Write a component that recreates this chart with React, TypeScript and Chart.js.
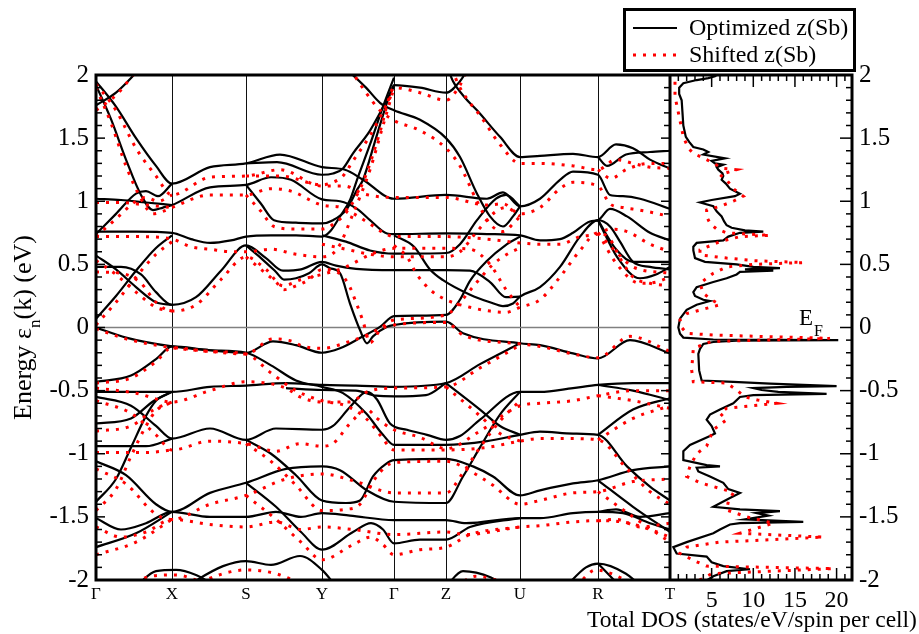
import React, { useEffect, useRef } from "react";
import { Chart, registerables } from "chart.js";
Chart.register(...registerables);

const SERIF = "'Liberation Serif', 'Times New Roman', Times, serif";

// high-symmetry points (path length units) and labels
const kPositions = [0, 76, 150, 226, 298, 350, 424, 502, 574];
const kLabels = ["Γ", "X", "S", "Y", "Γ", "Z", "U", "R", "T"];
const energyTicks = [-2, -1.5, -1, -0.5, 0, 0.5, 1, 1.5, 2];
const dosTicks = [5, 10, 15, 20];
const energyRange = [-2, 2];
const dosRange = [0, 21.85];
const legendLabels = ["Optimized z(Sb)", "Shifted z(Sb)"];

// optimized z(Sb) bands: [k, E]
const optimizedBands: number[][][] = [
  [[0,1.95],[20,1.75],[40,1.50],[60,1.28],[76,1.14],[114,1.27],[150,1.30],[184,1.37],[226,1.27],[249,1.25],[267,1.17],[298,1.02],[350,1.05],[391,1.02],[407,1.07],[424,0.96],[444,1.02],[464,1.17],[477,1.235],[502,1.21],[514,1.05],[527,1.04],[544,1.02],[574,0.94]],
  [[0,1.92],[15,1.65],[30,1.33],[45,1.05],[57,0.93],[67,0.95],[76,0.97],[114,1.11],[150,1.13],[175,1.19],[195,1.17],[226,1.015],[244,1.0],[261,0.94],[274,0.85],[291,0.745],[298,0.74],[350,0.745],[391,0.74],[424,0.73],[444,0.69],[464,0.70],[477,0.75],[494,0.84],[502,0.85],[514,0.94],[531,0.88],[554,0.75],[574,0.69]],
  [[0,1.76],[20,1.86],[44,2.05]],
  [[0,1.02],[25,1.01],[50,0.99],[76,0.97]],
  [[150,1.13],[165,0.98],[178,0.85],[200,0.83],[226,0.825],[237,0.85],[251,0.94],[261,1.09],[267,1.17],[280,1.50],[294,1.85],[298,1.92],[324,1.90],[350,1.86],[364,1.95],[372,2.05]],
  [[0,0.74],[20,0.90],[40,1.06],[50,1.08],[62,1.04],[76,1.14]],
  [[150,1.30],[181,1.31],[226,1.21],[237,1.22],[247,1.26],[257,1.38],[274,1.56],[298,1.91]],
  [[250,2.05],[270,1.90],[284,1.78],[298,1.72],[324,1.645],[350,1.50],[364,1.35],[381,1.06],[394,0.88],[407,0.80],[417,0.88],[424,0.96]],
  [[352,2.05],[357,1.95],[369,1.82],[381,1.72],[404,1.51],[424,1.35],[444,1.36],[477,1.375],[502,1.35],[520,1.45],[537,1.42],[554,1.33],[574,1.26]],
  [[502,1.35],[511,1.28],[530,1.37],[554,1.39],[574,1.40]],
  [[0,0.76],[40,0.76],[76,0.75],[95,0.70],[114,0.67],[135,0.69],[150,0.72],[175,0.73],[200,0.73],[226,0.72],[234,0.76],[244,0.88],[254,1.01],[261,1.17],[274,1.45],[287,1.75],[298,1.98]],
  [[0,0.48],[25,0.48],[45,0.42],[60,0.28],[76,0.18],[100,0.24],[125,0.45],[150,0.65],[170,0.55],[187,0.45],[205,0.46],[226,0.52],[240,0.49],[260,0.465],[298,0.455],[350,0.455],[374,0.45],[394,0.36],[410,0.24],[424,0.245]],
  [[0,0.57],[20,0.46],[40,0.32],[60,0.20],[76,0.18]],
  [[150,0.65],[165,0.55],[180,0.44],[188,0.38],[200,0.39],[213,0.43],[226,0.50],[234,0.47],[244,0.43],[254,0.19],[264,-0.02],[271,-0.125],[277,-0.07],[291,0.006],[298,0.02],[350,0.046],[367,-0.046],[424,-0.125],[444,-0.14],[477,-0.205],[502,-0.245],[534,-0.10],[574,-0.205]],
  [[0,0.07],[20,0.25],[40,0.45],[60,0.63],[76,0.73]],
  [[298,0.73],[318,0.64],[334,0.46],[347,0.375],[374,0.26],[394,0.20],[407,0.17],[417,0.19],[424,0.245],[444,0.32],[464,0.48],[484,0.72],[502,0.85],[514,0.80],[524,0.68],[537,0.52],[554,0.48],[574,0.46]],
  [[226,0.73],[250,0.68],[274,0.61],[298,0.585],[350,0.59],[364,0.66],[381,0.85],[400,1.02],[410,1.05],[424,0.96]],
  [[502,0.85],[520,0.62],[537,0.52],[574,0.52]],
  [[502,0.85],[521,0.56],[544,0.39],[560,0.42],[574,0.48]],
  [[0,0.0],[30,-0.08],[76,-0.15],[114,-0.18],[150,-0.20],[177,-0.11],[200,-0.14],[226,-0.20],[244,-0.165],[267,-0.07],[284,0.005],[298,0.09],[350,0.10],[364,0.22],[374,0.37],[390,0.52],[411,0.66],[424,0.72]],
  [[0,-0.43],[35,-0.38],[60,-0.25],[76,-0.15],[114,-0.18],[150,-0.20],[175,-0.30],[200,-0.42],[226,-0.47],[247,-0.52],[270,-0.68],[287,-0.85],[298,-0.93],[350,-0.93],[391,-0.90],[424,-0.85],[444,-0.825],[477,-0.84],[502,-0.85],[531,-1.1],[554,-1.26],[574,-1.37]],
  [[0,-0.51],[40,-0.51],[76,-0.51],[114,-0.47],[150,-0.46],[190,-0.44],[226,-0.455],[260,-0.46],[298,-0.47],[350,-0.44],[384,-0.29],[424,-0.125]],
  [[190,-0.48],[226,-0.495],[260,-0.50],[280,-0.54],[298,-0.545],[330,-0.535],[350,-0.44]],
  [[350,-0.44],[384,-0.65],[404,-0.78],[424,-0.85]],
  [[0,-0.55],[35,-0.62],[60,-0.78],[76,-0.88],[114,-0.80],[150,-0.89],[180,-0.80],[226,-0.81],[237,-0.78],[254,-0.63],[271,-0.51],[281,-0.57],[294,-0.76],[311,-0.81],[331,-0.85],[350,-0.89],[364,-0.86],[384,-0.73],[424,-0.51],[444,-0.51],[477,-0.48],[502,-0.455],[537,-0.44],[574,-0.44]],
  [[150,-0.89],[175,-1.0],[200,-1.17],[226,-1.37],[250,-1.39],[264,-1.37],[277,-1.18],[290,-1.08],[298,-1.05],[350,-1.04],[377,-1.10],[397,-1.18],[424,-1.33],[444,-1.29],[477,-1.235],[502,-1.21],[537,-1.13],[574,-1.10]],
  [[0,-0.76],[35,-0.72],[58,-0.58],[76,-0.51]],
  [[0,-0.94],[50,-0.94],[76,-0.88]],
  [[0,-1.06],[30,-1.17],[60,-1.40],[76,-1.46],[114,-1.31],[150,-1.23],[190,-1.12],[226,-1.10],[244,-1.13],[271,-1.29],[298,-1.38],[350,-1.39],[367,-1.18],[384,-0.95],[404,-0.69],[424,-0.51]],
  [[0,-1.38],[20,-1.20],[35,-0.95],[50,-0.70],[60,-0.58],[76,-0.51]],
  [[0,-1.51],[25,-1.60],[50,-1.55],[76,-1.46],[114,-1.50],[150,-1.50],[180,-1.46],[205,-1.50],[226,-1.47],[254,-1.49],[298,-1.525],[350,-1.525],[370,-1.55],[424,-1.51],[444,-1.51],[477,-1.47],[502,-1.46],[527,-1.47],[554,-1.55],[574,-1.60]],
  [[0,-1.74],[40,-1.63],[76,-1.46]],
  [[150,-1.23],[180,-1.42],[205,-1.62],[226,-1.76],[257,-1.62],[275,-1.55],[287,-1.60],[298,-1.71],[324,-1.68],[350,-1.68],[374,-1.58],[424,-1.51]],
  [[502,-1.21],[537,-1.42],[574,-1.62]],
  [[502,-0.85],[537,-0.65],[574,-0.56]],
  [[502,-0.455],[537,-0.50],[574,-0.575]],
  [[502,-1.46],[520,-1.44],[544,-1.50],[574,-1.47]],
  [[40,-2.05],[60,-1.93],[80,-1.92],[100,-1.96],[120,-2.05]],
  [[90,-2.05],[127,-1.89],[150,-1.85],[175,-1.88],[204,-1.81],[226,-1.92],[240,-2.05]],
  [[350,-2.05],[367,-1.93],[395,-1.98],[410,-2.05]],
  [[470,-2.05],[490,-1.90],[502,-1.87],[530,-1.95],[545,-2.05]],
  [[502,-1.87],[524,-2.05]],
];

// shifted z(Sb) bands: [k, E]
const shiftedBands: number[][][] = [
  [[0,1.93],[20,1.72],[40,1.42],[60,1.20],[76,1.05],[114,1.19],[150,1.20],[184,1.25],[226,1.12],[249,1.12],[267,1.06],[298,1.03],[350,1.03],[391,0.97],[407,0.98],[424,0.90],[444,0.95],[464,1.10],[477,1.15],[502,1.12],[514,0.98],[527,0.95],[544,0.93],[574,0.88]],
  [[0,1.90],[15,1.62],[30,1.28],[45,1.02],[57,0.90],[67,0.92],[76,0.95],[114,1.05],[150,1.05],[175,1.10],[195,1.08],[226,0.97],[246,0.95],[258,0.90],[274,0.82],[290,0.74],[298,0.72],[350,0.72],[391,0.70],[424,0.67],[444,0.66],[464,0.66],[484,0.72],[502,0.74],[514,0.78],[531,0.76],[554,0.66],[574,0.60]],
  [[0,1.72],[20,1.84],[42,2.05]],
  [[0,0.99],[25,0.99],[50,0.97],[76,0.95]],
  [[150,1.05],[165,0.92],[178,0.80],[200,0.78],[226,0.78],[241,0.84],[251,0.92],[267,1.15],[284,1.55],[294,1.84],[298,1.90],[324,1.86],[350,1.80],[364,1.92],[372,2.05]],
  [[0,0.72],[20,0.86],[40,1.00],[50,1.03],[62,1.00],[76,1.05]],
  [[150,1.20],[184,1.20],[226,1.13],[237,1.15],[247,1.20],[257,1.32],[274,1.52],[298,1.88]],
  [[254,2.05],[270,1.86],[284,1.72],[298,1.64],[324,1.56],[350,1.42],[364,1.28],[381,1.00],[394,0.82],[407,0.76],[417,0.82],[424,0.88]],
  [[356,2.05],[362,1.93],[372,1.80],[384,1.68],[404,1.45],[424,1.30],[444,1.30],[477,1.28],[502,1.25],[520,1.33],[537,1.30],[554,1.27],[574,1.26]],
  [[502,1.25],[515,1.18],[530,1.25],[554,1.30],[574,1.30]],
  [[0,0.72],[40,0.72],[76,0.70],[95,0.64],[114,0.62],[135,0.60],[150,0.60],[175,0.62],[200,0.58],[226,0.56],[241,0.62],[257,0.90],[274,1.25],[287,1.60],[298,1.90]],
  [[0,0.44],[25,0.43],[45,0.35],[60,0.20],[76,0.13],[100,0.18],[125,0.38],[150,0.56],[170,0.46],[187,0.33],[205,0.38],[226,0.42],[250,0.48],[275,0.58],[298,0.627],[350,0.627],[374,0.62],[394,0.50],[410,0.30],[424,0.16]],
  [[0,0.53],[20,0.42],[40,0.28],[60,0.16],[76,0.13]],
  [[150,0.56],[165,0.46],[180,0.36],[188,0.30],[200,0.33],[213,0.38],[226,0.46],[241,0.44],[252,0.35],[260,0.20],[267,0.05],[274,-0.12],[284,-0.02],[292,0.04],[298,0.06],[350,0.10],[364,0.20],[381,0.36],[397,0.50],[411,0.58],[424,0.63]],
  [[0,0.02],[20,0.20],[40,0.40],[60,0.58],[76,0.68]],
  [[298,0.65],[311,0.56],[321,0.42],[334,0.30],[350,0.22],[374,0.16],[394,0.13],[410,0.12],[424,0.16],[444,0.22],[464,0.40],[484,0.61],[502,0.75],[514,0.70],[524,0.55],[537,0.40],[554,0.35],[574,0.33]],
  [[226,0.66],[250,0.62],[274,0.58],[298,0.56],[350,0.56],[364,0.60],[381,0.76],[400,0.92],[410,0.95],[424,0.88]],
  [[502,0.75],[520,0.60],[537,0.48],[574,0.43]],
  [[502,0.75],[521,0.50],[544,0.35],[560,0.36],[574,0.40]],
  [[0,-0.01],[30,-0.09],[76,-0.16],[114,-0.19],[150,-0.21],[177,-0.09],[200,-0.12],[204,-0.14],[226,-0.165],[254,-0.11],[271,-0.06],[284,-0.01],[298,0.02],[350,0.04],[367,-0.06],[424,-0.13],[444,-0.15],[477,-0.21],[502,-0.24],[534,-0.07],[574,-0.19]],
  [[0,-0.44],[35,-0.40],[60,-0.27],[76,-0.16],[114,-0.19],[150,-0.21],[175,-0.36],[200,-0.50],[226,-0.58],[250,-0.62],[270,-0.72],[285,-0.86],[298,-0.97],[350,-0.97],[391,-0.95],[424,-0.90],[444,-0.88],[477,-0.88],[502,-0.89],[531,-1.12],[554,-1.30],[574,-1.40]],
  [[0,-0.48],[40,-0.52],[76,-0.59],[114,-0.50],[150,-0.43],[190,-0.48],[204,-0.55],[226,-0.59],[254,-0.59],[271,-0.51],[298,-0.48],[350,-0.47],[384,-0.32],[424,-0.14]],
  [[350,-0.47],[384,-0.70],[404,-0.84],[424,-0.90]],
  [[0,-0.58],[35,-0.68],[60,-0.85],[76,-0.97],[114,-0.90],[150,-0.92],[180,-0.98],[204,-0.92],[226,-0.94],[237,-0.92],[254,-0.76],[271,-0.65],[281,-0.72],[298,-0.81],[324,-0.87],[350,-0.96],[384,-0.82],[424,-0.62],[444,-0.60],[477,-0.58],[502,-0.54],[537,-0.50],[574,-0.50]],
  [[150,-0.92],[175,-1.06],[200,-1.25],[226,-1.45],[250,-1.44],[264,-1.40],[277,-1.22],[290,-1.10],[298,-1.07],[350,-1.06],[377,-1.15],[397,-1.25],[424,-1.40],[444,-1.37],[477,-1.31],[502,-1.30],[537,-1.22],[574,-1.20]],
  [[0,-0.82],[35,-0.78],[58,-0.65],[76,-0.59]],
  [[0,-0.99],[50,-0.99],[76,-0.97]],
  [[0,-1.12],[30,-1.24],[60,-1.48],[76,-1.52],[114,-1.40],[150,-1.33],[190,-1.20],[226,-1.16],[260,-1.22],[298,-1.31],[350,-1.31],[367,-1.15],[384,-0.95],[404,-0.74],[424,-0.58]],
  [[0,-1.45],[20,-1.28],[35,-1.02],[50,-0.78],[60,-0.66],[76,-0.59]],
  [[0,-1.58],[25,-1.66],[50,-1.62],[76,-1.52],[114,-1.56],[150,-1.58],[180,-1.54],[205,-1.60],[226,-1.58],[257,-1.60],[298,-1.64],[350,-1.62],[370,-1.64],[424,-1.58],[444,-1.57],[477,-1.54],[502,-1.53],[527,-1.54],[554,-1.60],[574,-1.66]],
  [[0,-1.80],[40,-1.70],[76,-1.52]],
  [[150,-1.33],[180,-1.52],[205,-1.70],[226,-1.84],[257,-1.72],[275,-1.66],[287,-1.72],[298,-1.80],[324,-1.76],[350,-1.74],[374,-1.64],[424,-1.58]],
  [[502,-1.30],[537,-1.50],[574,-1.70]],
  [[502,-0.89],[537,-0.72],[574,-0.62]],
  [[502,-0.54],[537,-0.58],[574,-0.64]],
  [[502,-1.53],[520,-1.52],[544,-1.58],[574,-1.55]],
  [[30,-2.05],[55,-1.97],[80,-1.96],[100,-2.0],[115,-2.05]],
  [[95,-2.05],[127,-1.95],[150,-1.92],[180,-1.95],[210,-2.05]],
  [[360,-2.05],[380,-1.97],[410,-2.02]],
  [[480,-2.05],[500,-1.92],[530,-2.0],[545,-2.05]],
];

// total DOS: [E, states/eV/spin per cell]
const dosOptimized: number[][] = [
  [2.02,6.0],[1.99,5.4],[1.975,4.6],[1.96,3.2],[1.935,1.6],[1.90,1.1],[1.85,1.1],[1.80,1.4],[1.70,1.5],[1.60,1.6],[1.51,1.9],[1.47,2.3],[1.43,2.8],[1.41,4.0],[1.39,4.6],[1.37,4.0],[1.34,6.6],[1.32,5.0],[1.30,5.4],[1.29,6.4],[1.27,5.6],[1.25,5.8],[1.22,6.3],[1.20,6.4],[1.17,6.2],[1.14,6.7],[1.10,7.2],[1.06,8.4],[1.04,7.8],[1.01,5.0],[0.99,3.6],[0.96,5.2],[0.92,5.6],[0.88,6.2],[0.84,6.5],[0.81,6.8],[0.79,7.4],[0.77,9.0],[0.76,11.2],[0.75,8.4],[0.72,7.0],[0.69,6.4],[0.67,3.2],[0.64,2.8],[0.61,2.8],[0.55,3.0],[0.52,4.2],[0.50,8.0],[0.48,10.0],[0.47,13.2],[0.46,9.0],[0.45,12.4],[0.44,8.4],[0.42,8.0],[0.39,6.8],[0.36,5.2],[0.32,3.2],[0.28,2.8],[0.25,3.0],[0.22,4.0],[0.21,4.8],[0.18,3.2],[0.14,2.0],[0.07,1.2],[0.0,1.0],[-0.05,1.2],[-0.08,1.6],[-0.095,5.2],[-0.10,20.2],[-0.105,8.0],[-0.115,5.2],[-0.13,4.0],[-0.17,3.6],[-0.21,3.4],[-0.34,3.5],[-0.42,3.8],[-0.43,7.6],[-0.445,12.0],[-0.465,20.0],[-0.47,14.0],[-0.48,10.0],[-0.495,11.0],[-0.51,13.0],[-0.525,18.8],[-0.535,10.0],[-0.55,8.4],[-0.60,7.6],[-0.65,6.0],[-0.69,4.8],[-0.73,4.4],[-0.78,5.0],[-0.81,5.2],[-0.84,5.4],[-0.86,4.8],[-0.93,2.4],[-0.98,1.6],[-1.05,1.6],[-1.09,4.4],[-1.10,6.0],[-1.11,3.2],[-1.14,3.4],[-1.18,4.8],[-1.23,6.4],[-1.28,7.0],[-1.31,8.4],[-1.35,7.2],[-1.42,5.2],[-1.44,8.4],[-1.455,13.2],[-1.47,10.4],[-1.49,11.8],[-1.52,9.0],[-1.54,16.0],[-1.55,8.4],[-1.56,7.2],[-1.60,6.0],[-1.63,5.2],[-1.70,2.0],[-1.74,0.4],[-1.79,0.8],[-1.815,4.4],[-1.86,5.0],[-1.89,6.4],[-1.915,9.6],[-1.93,6.8],[-1.97,5.2],[-2.02,4.0],
];
const dosShifted: number[][] = [
  [2.02,1.0],[1.95,0.6],[1.83,0.6],[1.64,1.2],[1.51,1.6],[1.42,2.2],[1.38,2.8],[1.33,4.4],[1.30,5.2],[1.26,6.4],[1.25,8.0],[1.21,6.0],[1.17,6.8],[1.10,7.6],[1.04,8.8],[1.00,7.6],[0.96,6.0],[0.93,4.4],[0.88,4.4],[0.825,4.8],[0.78,5.6],[0.75,6.8],[0.73,12.0],[0.72,8.4],[0.68,6.0],[0.615,3.6],[0.575,3.6],[0.55,6.8],[0.53,10.0],[0.514,16.0],[0.50,10.0],[0.48,6.8],[0.43,5.2],[0.35,3.6],[0.27,4.0],[0.22,5.0],[0.18,6.0],[0.11,2.0],[0.06,1.2],[0.0,1.4],[-0.046,2.0],[-0.06,5.2],[-0.086,19.2],[-0.11,5.0],[-0.165,2.8],[-0.337,2.6],[-0.43,2.8],[-0.44,6.8],[-0.495,8.0],[-0.55,9.0],[-0.574,10.5],[-0.60,12.8],[-0.64,6.8],[-0.68,6.0],[-0.73,6.8],[-0.81,5.2],[-0.94,4.4],[-1.00,3.2],[-1.10,2.4],[-1.18,2.0],[-1.23,3.6],[-1.29,6.8],[-1.31,7.6],[-1.38,7.0],[-1.445,6.8],[-1.50,9.2],[-1.55,12.4],[-1.63,8.4],[-1.66,18.4],[-1.70,6.0],[-1.74,2.0],[-1.79,1.2],[-1.85,3.0],[-1.89,4.4],[-1.91,19.6],[-1.95,5.0],[-2.02,3.0],
];

const RED = "#ff0000";
const DOTS = [3, 7];

const decorPlugin = {
  id: "decor",
  afterDatasetsDraw(chart: any) {
    const ctx = chart.ctx;
    const xs = chart.scales.x, xd = chart.scales.x2, ys = chart.scales.y;
    const top = chart.chartArea.top, bottom = chart.chartArea.bottom;
    const L = xs.left, M = xs.right, R = xd.right;
    const seg = (a: number, b: number, c: number, d: number) => { ctx.beginPath(); ctx.moveTo(a, b); ctx.lineTo(c, d); ctx.stroke(); };
    ctx.save();
    ctx.strokeStyle = "#000";
    ctx.lineWidth = 1.5;
    for (let i = -20; i <= 20; i++) {
      const py = ys.getPixelForValue(i / 10);
      const major = i % 5 === 0;
      seg(L, py, L + (major ? 9 : 6), py);
      seg(M, py, M - (major ? 9 : 6), py);
      seg(R, py, R - (major ? 12 : 6), py);
    }
    for (let d = 1; d <= 21; d++) {
      const px = xd.getPixelForValue(d);
      const major = d % 5 === 0;
      seg(px, bottom, px, bottom - (major ? 12 : 6));
      seg(px, top, px, top + (major ? 12 : 6));
    }
    ctx.lineWidth = 3;
    ctx.strokeRect(L, top, R - L, bottom - top);
    seg(M, top, M, bottom);
    ctx.fillStyle = "#000";
    ctx.textBaseline = "alphabetic";
    ctx.textAlign = "left";
    ctx.font = `23px ${SERIF}`;
    ctx.fillText("E", 799, 325);
    ctx.font = `16px ${SERIF}`;
    ctx.fillText("F", 814, 336);
    ctx.textAlign = "center";
    ctx.font = `23.5px ${SERIF}`;
    ctx.fillText("Total DOS (states/eV/spin per cell)", 752, 627);
    ctx.save();
    ctx.translate(31, (top + bottom) / 2);
    ctx.rotate(-Math.PI / 2);
    ctx.textAlign = "left";
    const parts: [string, string, number][] = [["Energy ε", `26px ${SERIF}`, 0], ["n", `17px ${SERIF}`, 9], ["(k) (eV)", `26px ${SERIF}`, 0]];
    let total = 0;
    parts.forEach(([t, f]) => { ctx.font = f; total += ctx.measureText(t).width; });
    let cx = -total / 2;
    parts.forEach(([t, f, dy]) => { ctx.font = f; ctx.fillText(t, cx, dy); cx += ctx.measureText(t).width; });
    ctx.restore();
    ctx.restore();
  },
  afterDraw(chart: any) {
    const ctx = chart.ctx;
    ctx.save();
    ctx.fillStyle = "#fff";
    ctx.fillRect(623, 8, 233, 64);
    ctx.strokeStyle = "#000";
    ctx.lineWidth = 3;
    ctx.strokeRect(624.5, 9.5, 230, 61);
    ctx.lineWidth = 2;
    ctx.beginPath(); ctx.moveTo(633, 28); ctx.lineTo(677, 28); ctx.stroke();
    ctx.strokeStyle = RED;
    ctx.lineWidth = 3;
    ctx.setLineDash(DOTS);
    ctx.beginPath(); ctx.moveTo(633, 55); ctx.lineTo(677, 55); ctx.stroke();
    ctx.setLineDash([]);
    ctx.fillStyle = "#000";
    ctx.font = `24px ${SERIF}`;
    ctx.textAlign = "left";
    ctx.textBaseline = "alphabetic";
    ctx.fillText(legendLabels[0], 689, 35);
    ctx.fillText(legendLabels[1], 689, 62);
    ctx.restore();
  },
};

export default function App() {
  const ref = useRef<HTMLCanvasElement>(null);
  useEffect(() => {
    if (!ref.current) return;
    const datasets: any[] = [];
    const bandStyle = { showLine: true, pointRadius: 0, cubicInterpolationMode: "monotone", xAxisID: "x", yAxisID: "y" };
    shiftedBands.forEach((b) => datasets.push({ ...bandStyle, data: b.map(([k, e]) => ({ x: k, y: e })), borderColor: RED, borderWidth: 3, borderDash: DOTS }));
    optimizedBands.forEach((b) => datasets.push({ ...bandStyle, data: b.map(([k, e]) => ({ x: k, y: e })), borderColor: "#000", borderWidth: 2.2 }));
    datasets.push({ showLine: true, pointRadius: 0, tension: 0, xAxisID: "x2", yAxisID: "y", data: dosShifted.map(([e, v]) => ({ x: v, y: e })), borderColor: RED, borderWidth: 3, borderDash: DOTS });
    datasets.push({ showLine: true, pointRadius: 0, tension: 0, xAxisID: "x2", yAxisID: "y", data: dosOptimized.map(([e, v]) => ({ x: v, y: e })), borderColor: "#000", borderWidth: 2.2 });
    datasets.push({ showLine: true, pointRadius: 0, xAxisID: "x", yAxisID: "y", data: [{ x: kPositions[0], y: 0 }, { x: kPositions[kPositions.length - 1], y: 0 }], borderColor: "#808080", borderWidth: 1.5 });

    const yCommon = (pos: string, width: number) => ({
      type: "linear", position: pos, min: energyRange[0], max: energyRange[1],
      afterBuildTicks: (s: any) => { s.ticks = energyTicks.map((v) => ({ value: v })); },
      afterFit: (s: any) => { s.width = width; },
      ticks: { color: "#000", padding: 7, font: { family: SERIF, size: 25 }, callback: (v: any) => String(v) },
      grid: { display: false, drawTicks: false },
      border: { display: false },
    });

    const chart = new Chart(ref.current, {
      type: "scatter",
      data: { datasets },
      options: {
        responsive: false,
        animation: false,
        devicePixelRatio: 1,
        layout: { padding: { top: 75, left: 0, right: 0, bottom: 0 } },
        plugins: { legend: { display: false }, tooltip: { enabled: false } },
        scales: {
          x: {
            type: "linear", position: "bottom", stack: "bottom", stackWeight: 574,
            min: kPositions[0], max: kPositions[kPositions.length - 1],
            afterBuildTicks: (s: any) => { s.ticks = kPositions.map((v) => ({ value: v })); },
            afterFit: (s: any) => { s.height = 54; },
            ticks: { autoSkip: false, maxRotation: 0, color: "#000", padding: 4, font: { family: SERIF, size: 17 }, callback: (_v: any, i: number) => kLabels[i] },
            grid: { color: "#111", lineWidth: 1, drawTicks: false },
            border: { display: false },
          },
          x2: {
            type: "linear", position: "bottom", stack: "bottom", stackWeight: 182,
            min: dosRange[0], max: dosRange[1],
            afterBuildTicks: (s: any) => { s.ticks = dosTicks.map((v) => ({ value: v })); },
            afterFit: (s: any) => { s.height = 54; },
            ticks: { autoSkip: false, maxRotation: 0, color: "#000", padding: 6, font: { family: SERIF, size: 24 }, callback: (v: any) => String(v) },
            grid: { display: false, drawTicks: false },
            border: { display: false },
          },
          y: yCommon("left", 96),
          y2: yCommon("right", 67),
        },
      } as any,
      plugins: [decorPlugin],
    } as any);
    return () => chart.destroy();
  }, []);
  return (
    <div style={{ position: "absolute", left: 0, top: 0, width: 919, height: 634, background: "#fff" }}>
      <canvas ref={ref} width={919} height={634} style={{ display: "block", width: 919, height: 634 }} />
    </div>
  );
}
